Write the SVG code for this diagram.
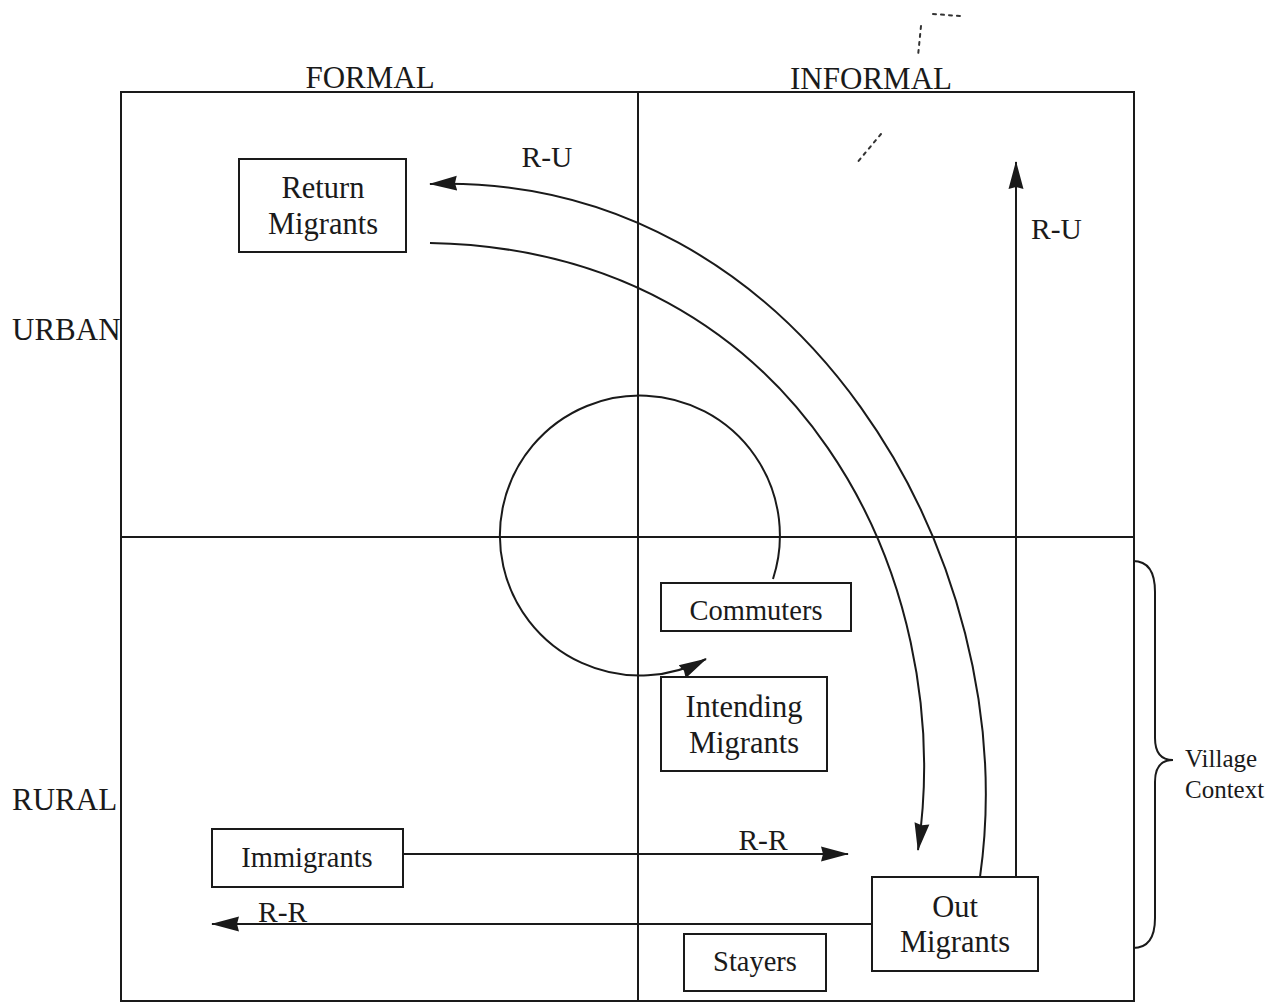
<svg xmlns="http://www.w3.org/2000/svg" width="1267" height="1004" viewBox="0 0 1267 1004">
<style>
text{font-family:"Liberation Serif","Times New Roman",serif;fill:#1a1a1a}
.hdr{font-size:31px}
.lbl{font-size:28.5px;text-anchor:middle}
.lbl2{font-size:30.5px;text-anchor:middle}
.flow{font-size:29.5px}
.box{fill:#fff;stroke:#1a1a1a;stroke-width:2}
.grid{fill:none;stroke:#1a1a1a;stroke-width:2}
.conn{fill:none;stroke:#1a1a1a;stroke-width:2}
.speck{fill:none;stroke:#333;stroke-width:2;stroke-dasharray:3 5;stroke-linecap:round}
</style>
<defs>
<marker id="ah" markerUnits="userSpaceOnUse" markerWidth="28" markerHeight="18" viewBox="0 0 28 18" refX="27" refY="9" orient="auto">
<path d="M0,1.5 L28,9 L0,16.5 L2,9 Z" fill="#1a1a1a"/>
</marker>
</defs>
<rect width="1267" height="1004" fill="#fff"/>
<g id="grid">
<rect class="grid" x="121" y="92" width="1013" height="909"/>
<line class="grid" x1="638" y1="92" x2="638" y2="1001"/>
<line class="grid" x1="121" y1="537" x2="1134" y2="537"/>
</g>
<g id="specks">
<path class="speck" d="M933,14 L960,16"/>
<path class="speck" d="M921,26 L918,56"/>
<path class="speck" d="M881,134 L856,164"/>
</g>
<g id="axis-labels">
<text class="hdr" x="370" y="88" text-anchor="middle">FORMAL</text>
<text class="hdr" x="871" y="89" text-anchor="middle">INFORMAL</text>
<text class="hdr" x="12" y="340">URBAN</text>
<text class="hdr" x="12" y="810">RURAL</text>
</g>
<g id="connectors">
<path class="conn" d="M 980 877 C 1025 560, 800 172, 430 184" marker-end="url(#ah)"/>
<path class="conn" d="M 430 243 C 800 250, 958 580, 918 850" marker-end="url(#ah)"/>
<path class="conn" d="M 773 579 A 140 140 0 1 0 706 659" marker-end="url(#ah)"/>
<line class="conn" x1="1016" y1="877" x2="1016" y2="162" marker-end="url(#ah)"/>
<line class="conn" x1="403" y1="854" x2="848" y2="854" marker-end="url(#ah)"/>
<line class="conn" x1="872" y1="924" x2="212" y2="924" marker-end="url(#ah)"/>
<text class="flow" x="547" y="167" text-anchor="middle">R-U</text>
<text class="flow" x="1031" y="239">R-U</text>
<text class="flow" x="763" y="850" text-anchor="middle">R-R</text>
<text class="flow" x="258" y="922">R-R</text>
</g>
<g id="return-migrants">
<rect class="box" x="239" y="159" width="167" height="93"/>
<text class="lbl2" x="323" y="198">Return</text>
<text class="lbl2" x="323" y="234">Migrants</text>
</g>
<g id="commuters">
<rect class="box" x="661" y="583" width="190" height="48"/>
<text class="lbl" x="756" y="620">Commuters</text>
</g>
<g id="intending-migrants">
<rect class="box" x="661" y="677" width="166" height="94"/>
<text class="lbl2" x="744" y="717">Intending</text>
<text class="lbl2" x="744" y="753">Migrants</text>
</g>
<g id="immigrants">
<rect class="box" x="212" y="829" width="191" height="58"/>
<text class="lbl" x="307" y="867">Immigrants</text>
</g>
<g id="out-migrants">
<rect class="box" x="872" y="877" width="166" height="94"/>
<text class="lbl2" x="955" y="917">Out</text>
<text class="lbl2" x="955" y="952">Migrants</text>
</g>
<g id="stayers">
<rect class="box" x="684" y="934" width="142" height="57"/>
<text class="lbl" x="755" y="971">Stayers</text>
</g>
<g id="village-context">
<path class="conn" d="M1133,561 Q1155,561 1155,592 L1155,738 Q1155,760 1173,760 Q1155,760 1155,782 L1155,918 Q1155,948 1133,948"/>
<text x="1185" y="767" font-size="25">Village</text>
<text x="1185" y="798" font-size="25">Context</text>
</g>
</svg>
